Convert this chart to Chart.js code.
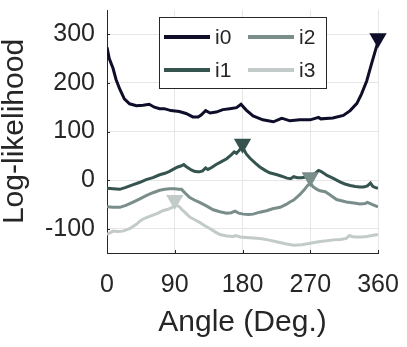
<!DOCTYPE html>
<html>
<head>
<meta charset="utf-8">
<script src="https://cdn.jsdelivr.net/npm/chart.js@4/dist/chart.umd.min.js"></script>
<style>
  html, body { margin: 0; padding: 0; background: #fff; }
  #chart { display: block; }
</style>
</head>
<body>
<canvas id="chart" width="407" height="347"></canvas>
<script>
// values
var ang0 = [0,3,8,12,17,23,30,39,48,56,63,70,76,85,96,105,114,121,125,131,137,145,154,163,172,178,185,194,207,221,232,235,243,256,270,281,284,300,314,323,332,338,345,351,356,360];
var i0 = [273,250,230,207,187,167,157,153,154,156,150,147,147,143,141,137,130,130,134,143,138,140,145,147,149,156,144,132,124,120,127,126,122,124,124,129,126,128,133,143,158,177,204,237,264,285];

var ang1 = [0,8,17,25,34,43,52,61,70,77,83,89,94,98,102,105,108,112,116,120,123,127,131,134,139,145,152,159,165,169,172,176,180,185,190,197,203,210,216,221,226,232,239,244,248,253,258,263,268,275,281,284,287,293,300,305,310,316,323,330,336,341,346,350,353,356,360];
var i1 = [-17,-18,-19,-15,-10,-5,1,5,11,14,18,23,27,29,32,28,25,21,18,17,17,19,25,22,26,32,38,44,52,58,55,62,68,54,45,35,27,20,15,13,11,8,4,3,7,5,5,6,6,12,20,18,15,9,4,0,-4,-8,-11,-13,-14,-14,-12,-6,-13,-15,-17];

var ang2 = [0,8,17,25,34,43,52,61,70,77,83,90,95,99,104,110,116,123,132,141,150,159,165,170,175,181,188,194,203,212,220,230,238,243,248,256,262,266,270,274,279,283,290,296,305,318,328,336,343,346,352,360];
var i2 = [-55,-56,-56,-52,-46,-39,-32,-26,-21,-19,-18,-18,-19,-19,-27,-36,-41,-46,-53,-61,-65,-68,-67,-64,-68,-70,-71,-70,-66,-63,-59,-56,-50,-45,-41,-30,-20,-12,-6,-14,-19,-22,-24,-30,-40,-45,-47,-49,-48,-46,-50,-55];

var ang3 = [0,8,14,21,30,39,44,48,54,61,68,74,81,88,90,94,97,99,104,110,116,123,130,137,143,150,159,168,171,177,185,194,203,214,225,237,248,259,270,281,292,301,310,318,322,325,330,338,345,352,360];
var i3 = [-112,-105,-106,-105,-100,-91,-84,-80,-76,-72,-68,-63,-60,-55,-53,-53,-56,-60,-67,-76,-81,-87,-94,-100,-106,-112,-115,-116,-114,-117,-118,-119,-120,-123,-127,-131,-134,-133,-130,-127,-125,-123,-122,-120,-114,-116,-117,-117,-116,-114,-112];

// triangle markers (one per series)
var peakAngles = [360, 180, 270, 90];
var peakValues = [292, 75, 6, -41];

var seriesNames = ['i0', 'i1', 'i2', 'i3'];
var seriesColors = ['#0e0e2a', '#35544f', '#798d8a', '#c2cbc9'];
var xTicks = [0, 90, 180, 270, 360];
var yTicks = [-100, 0, 100, 200, 300];

var FONT = '"Liberation Sans", Arial, Helvetica, sans-serif';
var INK = '#262626';

function pts(xs, ys) {
    return xs.map(function(x, k) { return {x: x, y: ys[k]}; });
}

var angles = [ang0, ang1, ang2, ang3];
var values = [i0, i1, i2, i3];
var datasets = [];

seriesNames.forEach(function(name, s) {
    datasets.push({
        label: name,
        data: pts(angles[s], values[s]),
        borderColor: seriesColors[s],
        borderWidth: 3,
        pointRadius: 0,
        tension: 0,
        fill: false,
        order: 1
    });
});
seriesNames.forEach(function(name, s) {
    datasets.push({
        label: name + ' peak',
        data: [{x: peakAngles[s], y: peakValues[s]}],
        showLine: false,
        pointStyle: 'triangle',
        rotation: 180,
        pointRadius: 10,
        pointBorderWidth: 0,
        backgroundColor: seriesColors[s],
        borderColor: seriesColors[s],
        clip: false,
        order: 0
    });
});

// small inward tick marks, like matlab axes
var innerTicks = {
    id: 'innerTicks',
    beforeDatasetsDraw: function(chart) {
        var ctx = chart.ctx, xs = chart.scales.x, ys = chart.scales.y;
        ctx.save();
        ctx.strokeStyle = INK;
        ctx.lineWidth = 1;
        ctx.beginPath();
        xTicks.forEach(function(v) {
            var px = Math.round(xs.getPixelForValue(v)) + 0.5;
            ctx.moveTo(px, ys.bottom);
            ctx.lineTo(px, ys.bottom - 3);
        });
        yTicks.forEach(function(v) {
            var py = Math.round(ys.getPixelForValue(v)) + 0.5;
            ctx.moveTo(xs.left, py);
            ctx.lineTo(xs.left + 3, py);
        });
        ctx.stroke();
        ctx.restore();
    }
};

// legend box inside the axes, two columns (i0 i2 / i1 i3)
var boxLegend = {
    id: 'boxLegend',
    afterDatasetsDraw: function(chart) {
        var ctx = chart.ctx;
        ctx.save();
        ctx.fillStyle = '#fff';
        ctx.fillRect(159.5, 17.5, 167, 71);
        ctx.strokeStyle = INK;
        ctx.lineWidth = 1;
        ctx.strokeRect(159.5, 17.5, 167, 71);
        var cols = [164, 248];
        var rows = [37, 70];
        ctx.font = '21px ' + FONT;
        ctx.textBaseline = 'middle';
        ctx.textAlign = 'left';
        seriesNames.forEach(function(name, s) {
            var cx = cols[Math.floor(s / 2)];
            var cy = rows[s % 2];
            ctx.strokeStyle = seriesColors[s];
            ctx.lineWidth = 4;
            ctx.beginPath();
            ctx.moveTo(cx, cy);
            ctx.lineTo(cx + 46, cy);
            ctx.stroke();
            ctx.fillStyle = INK;
            ctx.fillText(name, cx + 51, cy + 1);
        });
        ctx.restore();
    }
};

new Chart(document.getElementById('chart').getContext('2d'), {
    type: 'line',
    data: { datasets: datasets },
    options: {
        responsive: false,
        animation: false,
        layout: { padding: { top: 4, right: 29, left: 0, bottom: 0 } },
        plugins: {
            legend: { display: false },
            tooltip: { enabled: false }
        },
        scales: {
            x: {
                type: 'linear',
                min: 0,
                max: 360,
                afterBuildTicks: function(a) { a.ticks = xTicks.map(function(v) { return {value: v}; }); },
                afterFit: function(a) { a.height = 94; a.paddingLeft = 0; a.paddingRight = 0; },
                grid: { color: '#e6e6e6', drawTicks: false },
                border: { color: INK, width: 1 },
                ticks: { padding: 17, color: INK, autoSkip: false, maxRotation: 0, font: { family: FONT, size: 25 } },
                title: { display: true, text: 'Angle (Deg.)', color: INK, font: { family: FONT, size: 30 }, padding: { top: 0, bottom: 6 } }
            },
            y: {
                min: -150,
                max: 350,
                afterBuildTicks: function(a) { a.ticks = yTicks.map(function(v) { return {value: v}; }); },
                afterFit: function(a) { a.width = 107; a.paddingTop = 0; a.paddingBottom = 0; },
                grid: { color: '#e6e6e6', drawTicks: false },
                border: { color: INK, width: 1 },
                ticks: { padding: 12, color: INK, font: { family: FONT, size: 25 } },
                title: { display: true, text: 'Log-likelihood', color: INK, font: { family: FONT, size: 30, lineHeight: 1 }, padding: { top: 0, bottom: 0 } }
            }
        }
    },
    plugins: [innerTicks, boxLegend]
});
</script>
</body>
</html>
